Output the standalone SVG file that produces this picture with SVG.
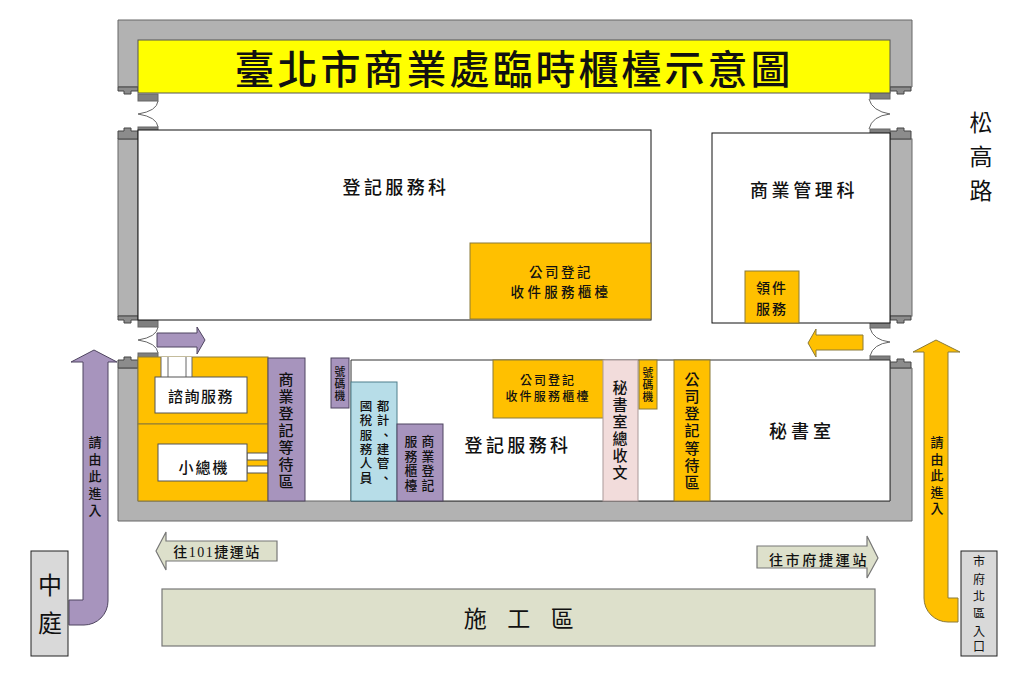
<svg xmlns="http://www.w3.org/2000/svg" width="1028" height="682" viewBox="0 0 1028 682">
<style>
text{font-family:"Liberation Serif","Noto Sans CJK TC","Noto Sans CJK JP",sans-serif;font-weight:500;fill:#111;text-anchor:middle;dominant-baseline:central}
.thin{font-weight:400}
.wall{fill:#b2b2b2;stroke:#666;stroke-width:1}
.jamb{fill:#7f7f7f;stroke:#666;stroke-width:1}
.cap{fill:#8c8c8c;stroke:#444;stroke-width:1}
.door{fill:none;stroke:#666;stroke-width:1}
.room{fill:#fff;stroke:#111;stroke-width:1}
.or{fill:#ffc000;stroke:#8a7a3a;stroke-width:1}
.pu{fill:#a794bd;stroke:#4f4560;stroke-width:1}
.gr{fill:#dde0cb;stroke:#777;stroke-width:1.2}
.gy{fill:#d9d9d9;stroke:#222;stroke-width:1}
.wh{fill:#fff;stroke:#555;stroke-width:1}
</style>
<rect width="1028" height="682" fill="#fff"/>
<g id="walls">
<path class="wall" d="M118 20H912V87H118Z"/>
<rect class="wall" x="118" y="139" width="20" height="177"/>
<rect class="wall" x="890" y="139" width="22" height="177"/>
<path class="wall" d="M118 368H138V501H890V368H912V521H118Z" stroke="#222"/>
<path class="cap" d="M118 87H138V91H131V94H124V91H118Z"/>
<path class="cap" d="M118 139V131H124V128H131V131H138V139Z"/>
<path class="cap" d="M118 316H138V320H131V323H124V320H118Z"/>
<path class="cap" d="M118 368V360H124V357H131V360H138V368Z"/>
<path class="cap" d="M890 87H911V91H904V94H897V91H890Z"/>
<path class="cap" d="M890 139V131H897V128H904V131H911V139Z"/>
<path class="cap" d="M890 316H911V320H904V323H897V320H890Z"/>
<path class="cap" d="M890 368V362H897V359H904V362H911V368Z"/>
</g>
<g id="doors">
<rect class="jamb" x="138" y="94" width="20" height="7"/>
<rect class="jamb" x="138" y="127" width="20" height="7"/>
<rect class="jamb" x="138" y="320" width="20" height="7"/>
<rect class="jamb" x="138" y="353" width="20" height="7"/>
<rect class="jamb" x="870" y="92" width="20" height="7"/>
<rect class="jamb" x="870" y="129" width="20" height="7"/>
<rect class="jamb" x="870" y="322" width="20" height="6"/>
<rect class="jamb" x="870" y="356" width="20" height="7"/>
<path class="door" d="M158 101Q157 111 138 114Q157 117 158 127M158 327Q157 337 138 340Q157 343 158 353M869 99Q872 111 890 114Q872 116 869 129M870 328Q873 340 890 342Q873 344 870 356"/>
</g>
<g id="title"><rect x="138" y="40" width="752" height="53" fill="#ffff00" stroke="#555"/><text x="514" y="70" font-size="40" letter-spacing="3">臺北市商業處臨時櫃檯示意圖</text></g>
<g id="room-top-left"><rect class="room" x="138" y="130" width="513" height="190"/><text x="396" y="188" font-size="18" letter-spacing="3.4">登記服務科</text></g>
<g id="room-top-right"><rect class="room" x="712" y="133" width="178" height="190"/><text x="804" y="191" font-size="18" letter-spacing="3.6">商業管理科</text></g>
<g id="counter-top"><rect class="or" x="470" y="243" width="181" height="76"/><text x="561" y="272" font-size="13.5" letter-spacing="2.5">公司登記</text><text x="561" y="292" font-size="13.5" letter-spacing="3.3">收件服務櫃檯</text></g>
<g id="pickup"><rect class="or" x="745" y="271" width="54" height="52"/><text x="772" y="288" font-size="14" letter-spacing="2">領件</text><text x="772" y="309" font-size="14" letter-spacing="2">服務</text></g>
<g id="room-bottom"><path fill="#fff" stroke="#333" d="M351 360H890V501H351Z"/><text x="518" y="446" font-size="18" letter-spacing="3.4">登記服務科</text></g>
<g id="info"><rect class="or" x="138" y="357" width="130" height="67"/><rect x="161" y="357" width="31" height="21" fill="#fff"/><path d="M161 357V377M168 357V377M186 357V377M192 357V377" stroke="#666" fill="none"/><rect class="wh" x="155" y="377" width="92" height="36"/><text x="201" y="396.500" font-size="15" letter-spacing="1.5">諮詢服務</text></g>
<g id="switchboard"><rect class="or" x="138" y="424" width="130" height="77"/><rect class="wh" x="247" y="453" width="21" height="7"/><rect class="wh" x="247" y="466" width="21" height="7"/><rect class="wh" x="158" y="444" width="89" height="37"/><text x="204" y="467.500" font-size="15" letter-spacing="2">小總機</text></g>
<g id="waiting-1"><rect class="pu" x="268" y="358" width="37" height="143"/><text font-size="15"><tspan x="286" y="380">商</tspan><tspan x="286" y="397">業</tspan><tspan x="286" y="414">登</tspan><tspan x="286" y="431">記</tspan><tspan x="286" y="448">等</tspan><tspan x="286" y="465">待</tspan><tspan x="286" y="482">區</tspan></text></g>
<g id="ticket-1"><rect class="pu" x="331" y="358" width="18" height="50"/><text font-size="10.800"><tspan x="340" y="372">號</tspan><tspan x="340" y="384">碼</tspan><tspan x="340" y="396">機</tspan></text></g>
<g id="tax"><rect x="351" y="382" width="46" height="119" fill="#b7dde8" stroke="#4f7f8c"/><text font-size="12.500"><tspan x="383" y="407">都</tspan><tspan x="383" y="421.300">計</tspan><tspan x="386" y="435.600">、</tspan><tspan x="383" y="449.900">建</tspan><tspan x="383" y="464.200">管</tspan><tspan x="386" y="478.500">、</tspan><tspan x="366" y="407">國</tspan><tspan x="366" y="421.300">稅</tspan><tspan x="366" y="435.600">服</tspan><tspan x="366" y="449.900">務</tspan><tspan x="366" y="464.200">人</tspan><tspan x="366" y="478.500">員</tspan></text></g>
<g id="biz-counter"><rect class="pu" x="397" y="424" width="46" height="77"/><text font-size="12.800"><tspan x="428" y="442">商</tspan><tspan x="428" y="456.500">業</tspan><tspan x="428" y="471">登</tspan><tspan x="428" y="485.500">記</tspan><tspan x="411" y="442">服</tspan><tspan x="411" y="456.500">務</tspan><tspan x="411" y="471">櫃</tspan><tspan x="411" y="485.500">檯</tspan></text></g>
<g id="counter-bottom"><rect class="or" x="493" y="360" width="111" height="58"/><text x="548" y="381" font-size="12" letter-spacing="2">公司登記</text><text x="548" y="397" font-size="12" letter-spacing="2.2">收件服務櫃檯</text></g>
<g id="mailroom"><rect x="603" y="360" width="35" height="141" fill="#f2dcdb" stroke="#a99"/><text font-size="15"><tspan x="620" y="388">秘</tspan><tspan x="620" y="405">書</tspan><tspan x="620" y="422">室</tspan><tspan x="620" y="439">總</tspan><tspan x="620" y="456">收</tspan><tspan x="620" y="473">文</tspan></text></g>
<g id="ticket-2"><rect class="or" x="639" y="360" width="18" height="49"/><text font-size="10.800"><tspan x="648" y="373">號</tspan><tspan x="648" y="385">碼</tspan><tspan x="648" y="397">機</tspan></text></g>
<g id="waiting-2"><rect class="or" x="674" y="360" width="36" height="141"/><text font-size="15"><tspan x="692" y="380">公</tspan><tspan x="692" y="397">司</tspan><tspan x="692" y="414">登</tspan><tspan x="692" y="431">記</tspan><tspan x="692" y="449">等</tspan><tspan x="692" y="466">待</tspan><tspan x="692" y="483">區</tspan></text></g>
<g id="secretary"><text x="802" y="432" font-size="18" letter-spacing="4">秘書室</text></g>
<g id="connectors">
<path class="pu" d="M157 333H197V327L205 340L197 354V347H157Z"/>
<path class="or" d="M863 335H816V329L808 343L816 357V350H863Z"/>
<path class="pu" d="M94 350L117 362H108V601A24 24 0 0 1 84 625H69V600H83V362H71Z"/>
<path class="or" d="M936 340L960 352H948V598H958V622H948A24 24 0 0 1 924 598V352H913Z"/>
<path class="gr" d="M156 551L166 532V541H277V561H166V570Z"/>
<path class="gr" d="M878 558L867 536V546H757V568H867V578Z"/>
</g>
<g id="arrow-labels">
<text font-size="13"><tspan x="95" y="442">請</tspan><tspan x="95" y="459">由</tspan><tspan x="95" y="476">此</tspan><tspan x="95" y="493">進</tspan><tspan x="95" y="510">入</tspan><tspan x="937" y="442">請</tspan><tspan x="937" y="458.500">由</tspan><tspan x="937" y="475">此</tspan><tspan x="937" y="491.500">進</tspan><tspan x="937" y="508">入</tspan></text>
<text x="217" y="552.500" font-size="14" letter-spacing="1.5">往101捷運站</text>
<text x="819" y="560.500" font-size="14" letter-spacing="2.7">往市府捷運站</text>
</g>
<g id="construction"><rect class="gr" x="162" y="589" width="713" height="57"/><text class="thin" x="529" y="619" font-size="23" letter-spacing="20.500">施工區</text></g>
<g id="courtyard"><rect class="gy" x="31" y="551" width="37" height="105"/><text class="thin" font-size="24"><tspan x="50" y="586">中</tspan><tspan x="50" y="624">庭</tspan></text></g>
<g id="north-gate"><rect class="gy" x="961" y="551" width="36" height="105"/><text class="thin" font-size="12"><tspan x="979" y="562">市</tspan><tspan x="979" y="580">府</tspan><tspan x="979" y="597">北</tspan><tspan x="979" y="614">區</tspan><tspan x="979" y="632">入</tspan><tspan x="979" y="647">口</tspan></text></g>
<g id="road"><text class="thin" font-size="23"><tspan x="981" y="123">松</tspan><tspan x="981" y="157">高</tspan><tspan x="981" y="191">路</tspan></text></g>
</svg>
